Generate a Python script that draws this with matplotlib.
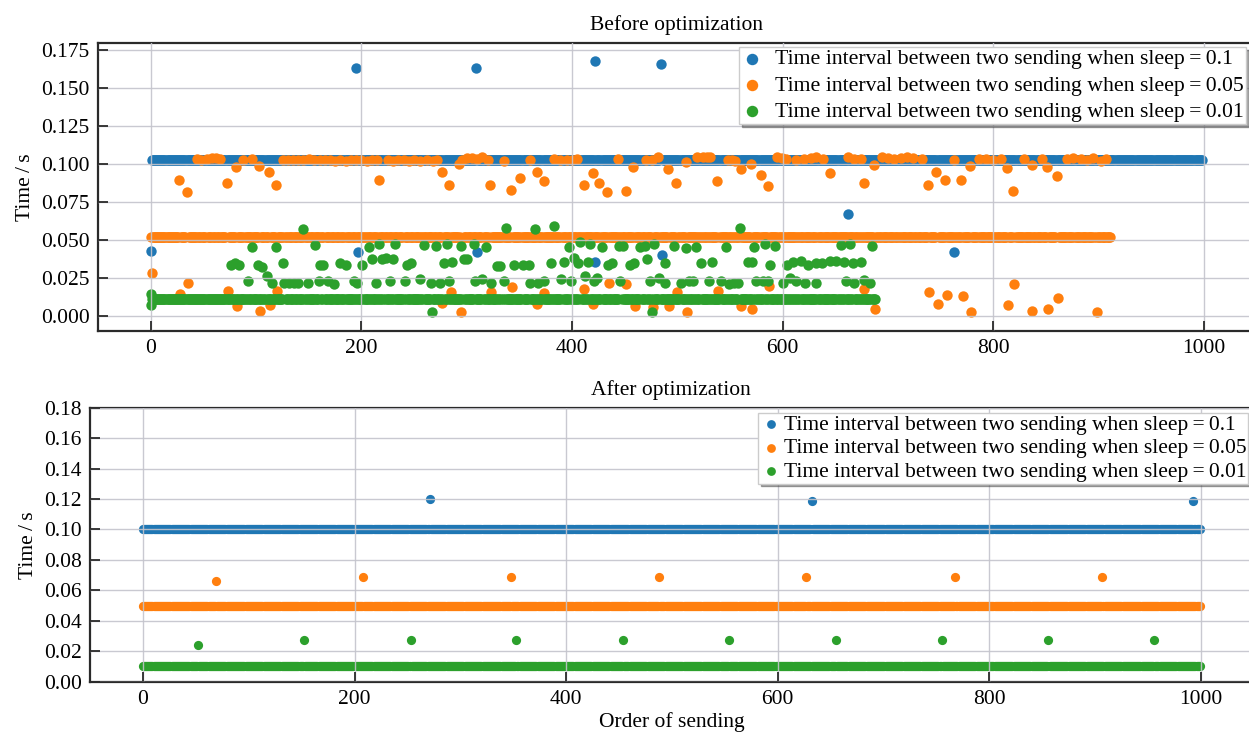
import matplotlib
matplotlib.use("Agg")
import matplotlib.pyplot as plt
import numpy as np
from matplotlib.ticker import FormatStrFormatter, MultipleLocator

plt.rcParams['font.family'] = ['Liberation Serif', 'DejaVu Serif']
plt.rcParams['font.size'] = 15.5

# ---------------- data: before optimization ----------------
labels = ['Time interval between two sending when sleep\u2009=\u20090.1',
          'Time interval between two sending when sleep\u2009=\u20090.05',
          'Time interval between two sending when sleep\u2009=\u20090.01']

# dense bands (order index 0..count-1 at about the same level)
blue_before_level = 0.1025
blue_before_count = 999
orange_before_level = 0.0517
orange_before_count = 912
green_before_level = 0.0110
green_before_count = 689

# points that leave the band
blue_before_x = [0, 195, 197, 309, 310, 422, 422, 484, 485, 662, 763]
blue_before_y = [0.0423, 0.1629, 0.0418, 0.163, 0.0418, 0.1675, 0.0352, 0.1655, 0.0398, 0.0668, 0.0418]

orange_before_x = [
    44, 48, 53, 58, 62, 66, 88, 96, 126, 130, 135, 140, 145, 150, 155, 161, 165, 170, 175, 180,
    185, 190, 195, 200, 205, 210, 215, 225, 230, 235, 240, 245, 250, 256, 262, 268, 272, 293, 296, 300,
    305, 310, 315, 320, 335, 360, 383, 389, 395, 400, 405, 444, 458, 470, 476, 482, 491, 508, 519, 524,
    528, 531, 548, 552, 555, 570, 595, 599, 603, 613, 620, 627, 632, 638, 662, 668, 674, 687, 694, 700,
    706, 712, 718, 724, 732, 763, 778, 786, 793, 800, 807, 813, 829, 837, 846, 851, 870, 876, 883, 889,
    895, 902, 907,
    27, 34, 72, 81, 103, 112, 119, 217, 277, 283, 322, 342, 351, 367, 373, 411, 420, 426, 433, 451,
    499, 538, 560, 579, 586, 645, 677, 738, 746, 754, 769, 819, 860,
    1, 35, 28, 73, 82, 104, 113, 120, 277, 285, 295, 323, 343, 367, 373, 411, 420, 435, 451, 460,
    477, 492, 500, 509, 539, 560, 571, 587, 677, 688, 739, 747, 756, 771, 779, 814, 820, 837, 852, 861,
    898]
orange_before_y = [
    0.1030, 0.1025, 0.1030, 0.1035, 0.1035, 0.1030, 0.1025, 0.1030, 0.1025, 0.1025, 0.1025, 0.1025, 0.1025, 0.1030, 0.1025, 0.1025, 0.1025, 0.1025, 0.1020, 0.1025,
    0.1020, 0.1025, 0.1025, 0.1025, 0.1020, 0.1025, 0.1025, 0.1025, 0.1020, 0.1025, 0.1025, 0.1020, 0.1025, 0.1020, 0.1025, 0.1020, 0.1025, 0.0995, 0.1025, 0.1035,
    0.1035, 0.1030, 0.1040, 0.1025, 0.1020, 0.1025, 0.1030, 0.1025, 0.1025, 0.1025, 0.1030, 0.1030, 0.0980, 0.1025, 0.1025, 0.1043, 0.0963, 0.1007, 0.1040, 0.1040,
    0.1042, 0.1040, 0.1025, 0.1025, 0.1020, 0.0998, 0.1040, 0.1035, 0.1030, 0.1025, 0.1030, 0.1035, 0.1040, 0.1030, 0.1040, 0.1030, 0.1030, 0.0990, 0.1040, 0.1035,
    0.1030, 0.1035, 0.1042, 0.1035, 0.1030, 0.1025, 0.0985, 0.1030, 0.1030, 0.1025, 0.1030, 0.0970, 0.1030, 0.0990, 0.1030, 0.0976, 0.1030, 0.1035, 0.1030, 0.1025,
    0.1035, 0.1020, 0.1030,
    0.0893, 0.0810, 0.0875, 0.0976, 0.0985, 0.0947, 0.0860, 0.0893, 0.0943, 0.0860, 0.0860, 0.0827, 0.0904, 0.0943, 0.0882, 0.0860, 0.0937, 0.0875, 0.0810, 0.0820,
    0.0875, 0.0888, 0.0965, 0.0925, 0.0849, 0.0936, 0.0875, 0.0860, 0.0945, 0.0893, 0.0893, 0.0820, 0.0915,
    0.0283, 0.0217, 0.0143, 0.0164, 0.0064, 0.0029, 0.0072, 0.0164, 0.0081, 0.0158, 0.0024, 0.0158, 0.0190, 0.0077, 0.0147, 0.0173, 0.0077, 0.0217, 0.0208, 0.0064,
    0.0055, 0.0064, 0.0158, 0.0026, 0.0164, 0.0064, 0.0042, 0.0195, 0.0173, 0.0042, 0.0158, 0.0075, 0.0136, 0.0129, 0.0026, 0.0066, 0.0208, 0.0030, 0.0042, 0.0114,
    0.0026]

green_before_x = [
    0, 0, 96, 119, 145, 156, 76, 80, 84, 102, 106, 126, 161, 92, 110, 115, 127, 131, 136, 140, 149, 160,
    207, 217, 232, 259, 271, 281, 295, 307, 318, 164, 180, 185, 201, 210, 220, 223, 230, 243, 247, 278,
    286, 297, 300, 329, 168, 174, 193, 196, 214, 227, 241, 256, 266, 275, 283, 308, 315, 323, 267,
    337, 365, 383, 397, 408, 417, 428, 445, 448, 465, 469, 478, 497, 332, 345, 353, 359, 380, 392, 402,
    406, 415, 434, 438, 455, 459, 471, 488, 335, 360, 368, 373, 390, 399, 412, 421, 424, 446, 474, 483,
    488, 476,
    559, 508, 518, 546, 573, 583, 593, 655, 664, 522, 533, 567, 571, 588, 604, 610, 617, 624, 632, 637,
    645, 651, 658, 667, 503, 511, 515, 530, 541, 549, 554, 558, 575, 581, 586, 600, 607, 613, 621, 632,
    660, 668, 685, 674, 677, 683]
green_before_y = [
    0.0143, 0.0070, 0.0450, 0.0450, 0.0568, 0.0463, 0.0333, 0.0344, 0.0333, 0.0333, 0.0322, 0.0344, 0.0333, 0.0230, 0.0257, 0.0217, 0.0217, 0.0217, 0.0217, 0.0217, 0.0217, 0.0224,
    0.0450, 0.0470, 0.0470, 0.0467, 0.0458, 0.0470, 0.0458, 0.0470, 0.0454, 0.0333, 0.0344, 0.0333, 0.0333, 0.0370, 0.0370, 0.0380, 0.0370, 0.0333, 0.0344, 0.0344,
    0.0355, 0.0370, 0.0370, 0.0327, 0.0224, 0.0208, 0.0230, 0.0217, 0.0217, 0.0230, 0.0230, 0.0239, 0.0217, 0.0217, 0.0230, 0.0230, 0.0239, 0.0217, 0.0020,
    0.0575, 0.0568, 0.0586, 0.0450, 0.0487, 0.0470, 0.0450, 0.0458, 0.0458, 0.0450, 0.0458, 0.0470, 0.0458, 0.0327, 0.0333, 0.0333, 0.0333, 0.0344, 0.0355, 0.0377,
    0.0348, 0.0355, 0.0333, 0.0344, 0.0333, 0.0348, 0.0370, 0.0344, 0.0230, 0.0217, 0.0217, 0.0224, 0.0239, 0.0230, 0.0257, 0.0224, 0.0246, 0.0224, 0.0230, 0.0246,
    0.0217, 0.0020,
    0.0575, 0.0443, 0.0450, 0.0450, 0.0450, 0.0470, 0.0458, 0.0463, 0.0470, 0.0344, 0.0355, 0.0355, 0.0355, 0.0333, 0.0333, 0.0355, 0.0362, 0.0333, 0.0344, 0.0344,
    0.0362, 0.0362, 0.0355, 0.0344, 0.0217, 0.0224, 0.0230, 0.0230, 0.0224, 0.0208, 0.0217, 0.0217, 0.0230, 0.0230, 0.0230, 0.0217, 0.0246, 0.0230, 0.0217, 0.0217,
    0.0230, 0.0217, 0.0458, 0.0349, 0.0235, 0.0217]

# ---------------- data: after optimization ----------------
blue_after_level = 0.100
orange_after_level = 0.050
green_after_level = 0.010
after_count = 1000

blue_after_x = [271, 632, 993]
blue_after_y = [0.1202, 0.1184, 0.1184]
orange_after_x = [69, 208, 348, 488, 627, 768, 907]
orange_after_y = [0.0663, 0.0687, 0.0687, 0.0687, 0.0687, 0.0687, 0.0687]
green_after_x = [52, 152, 253, 353, 454, 554, 655, 755, 856, 956]
green_after_y = [0.0240, 0.0274, 0.0274, 0.0274, 0.0274, 0.0276, 0.0276, 0.0276, 0.0276, 0.0276]

colors = ['#1f77b4', '#ff7f0e', '#2ca02c']


def series(level, count, out_x, out_y):
    band_x = np.setdiff1d(np.arange(count), out_x)
    x = np.concatenate([band_x, out_x])
    y = np.concatenate([np.full(len(band_x), level), out_y])
    return x, y


def style_axes(ax):
    ax.grid(True, color='#c4c4cc', linewidth=1.0, alpha=0.9)
    ax.set_axisbelow(False)
    for side in ['top', 'left', 'bottom', 'right']:
        ax.spines[side].set_color('#2a2a2a')
        ax.spines[side].set_linewidth(1.6)
    ax.tick_params(direction='in', length=7, width=1.3, color='#2a2a2a',
                   top=False, right=False, labelsize=15.5, pad=6)
    ax.set_xlim(-50, 1049)
    ax.xaxis.set_major_locator(MultipleLocator(200))
    ax.set_ylabel('Time\u2009/\u2009s', fontsize=15.5)


fig = plt.figure(figsize=(12.49, 7.33), dpi=100)

# before optimization
ax1 = fig.add_axes([0.0785, 0.5484, 0.9268, 0.3933])
data1 = [series(blue_before_level, blue_before_count, blue_before_x, blue_before_y),
         series(orange_before_level, orange_before_count, orange_before_x, orange_before_y),
         series(green_before_level, green_before_count, green_before_x, green_before_y)]
for (x, y), c, lab in zip(data1, colors, labels):
    ax1.scatter(x, y, s=56, color=c, label=lab, linewidths=0)
style_axes(ax1)
ax1.set_ylim(-0.0102, 0.1795)
ax1.yaxis.set_major_locator(MultipleLocator(0.025))
ax1.yaxis.set_major_formatter(FormatStrFormatter('%.3f'))
ax1.set_title('Before optimization', fontsize=15.5, pad=9)
ax1.legend(loc='upper right', bbox_to_anchor=(1246 / 1249, 1 - 47 / 733),
           bbox_transform=fig.transFigure, borderaxespad=0, fontsize=15.7,
           shadow=True, fancybox=False, framealpha=1, edgecolor='#cccccc',
           borderpad=0.1, labelspacing=0.27, handletextpad=0.55, handlelength=1.0,
           markerscale=1.1)

# after optimization
ax2 = fig.add_axes([0.0721, 0.0700, 0.9308, 0.3738])
data2 = [series(blue_after_level, after_count, blue_after_x, blue_after_y),
         series(orange_after_level, after_count, orange_after_x, orange_after_y),
         series(green_after_level, after_count, green_after_x, green_after_y)]
for (x, y), c, lab in zip(data2, colors, labels):
    ax2.scatter(x, y, s=44, color=c, label=lab, linewidths=0)
style_axes(ax2)
ax2.set_ylim(0, 0.18)
ax2.yaxis.set_major_locator(MultipleLocator(0.02))
ax2.yaxis.set_major_formatter(FormatStrFormatter('%.2f'))
ax2.set_title('After optimization', fontsize=15.5, pad=9)
ax2.set_xlabel('Order of sending', fontsize=15.5, labelpad=2)
ax2.legend(loc='upper right', bbox_to_anchor=(1248 / 1249, 1 - 413 / 733),
           bbox_transform=fig.transFigure, borderaxespad=0, fontsize=15.5,
           shadow=True, fancybox=False, framealpha=1, edgecolor='#cccccc',
           borderpad=0.08, labelspacing=0.16, handletextpad=0.1, handlelength=1.0,
           markerscale=0.95)

fig.savefig('out.png', dpi=100)
